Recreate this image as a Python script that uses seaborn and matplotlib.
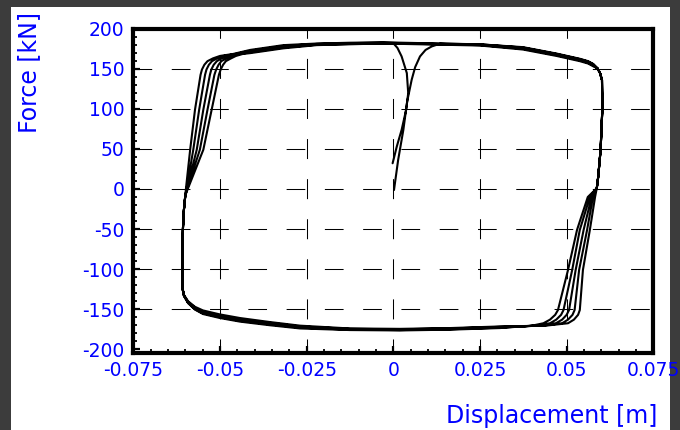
import matplotlib
matplotlib.use("Agg")
import matplotlib.pyplot as plt
from matplotlib.patches import Rectangle
from matplotlib.ticker import MultipleLocator
import pandas as pd
import seaborn as sns

# ---------------------------------------------------------------------------
# Force-displacement record (displacement in m, force in kN)
# ---------------------------------------------------------------------------
# first loading from rest
INITIAL_D = [0.0002, 0.0014, 0.0029, 0.0040, 0.0053, 0.0063, 0.0077, 0.0093, 0.0111, 0.0135]
INITIAL_F = [-1.3, 36.3, 73.8, 109.1, 136.3, 152.0, 165.4, 173.5, 177.9, 181.3]

# rest of the first positive plateau
FIRST_TOP_D = [0.0250, 0.0374, 0.0471, 0.0538, 0.0562, 0.0577]
FIRST_TOP_F = [180.5, 176.5, 168.5, 162.0, 159.0, 155.5]

# unloading at the positive peak (shared by all cycles)
RIGHT_DROP_D = [0.0589, 0.0596, 0.0602, 0.0603, 0.0598, 0.0591, 0.0587]
RIGHT_DROP_F = [150.5, 145.0, 136.0, 100.0, 49.0, 15.0, 1.0]

# reverse loading into compression, one branch per cycle
RIGHT_FAN_F = [-10.0, -51.0, -101.0, -151.0, -157.0, -163.0, -167.5, -170.5]
RIGHT_FAN_D = [
    [0.0582, 0.0567, 0.0547, 0.0538, 0.0533, 0.0521, 0.0504, 0.0440],
    [0.0576, 0.0559, 0.0536, 0.0523, 0.0517, 0.0504, 0.0487, 0.0430],
    [0.0572, 0.0549, 0.0526, 0.0507, 0.0500, 0.0487, 0.0469, 0.0420],
    [0.0567, 0.0538, 0.0516, 0.0491, 0.0484, 0.0470, 0.0452, 0.0410],
    [0.0561, 0.0530, 0.0504, 0.0475, 0.0467, 0.0452, 0.0433, 0.0400],
]

# negative plateau
BOTTOM_D = [0.0308, 0.0164, 0.0019, -0.0125, -0.0269, -0.0356,
            -0.0442, -0.0500, -0.0549, -0.0572, -0.0592, -0.0604, -0.0608]
BOTTOM_F = [
    [-171.5, -173.5, -174.5, -174.0, -170.5, -166.0, -161.0, -156.5, -151.5, -147.0, -140.0, -132.0, -123.5],
    [-172.0, -174.0, -175.0, -174.5, -171.5, -167.0, -162.5, -158.0, -153.0, -148.0, -141.0, -132.5, -124.0],
    [-172.5, -174.5, -175.5, -175.0, -172.0, -168.0, -163.5, -159.0, -154.0, -149.0, -141.5, -133.0, -124.0],
    [-173.0, -175.0, -176.0, -175.5, -173.0, -169.0, -164.5, -160.0, -155.0, -150.0, -142.0, -133.0, -124.5],
    [-173.5, -175.5, -176.5, -176.0, -174.0, -170.0, -165.5, -161.0, -156.0, -150.5, -142.5, -133.5, -124.5],
]

# unloading at the negative peak (shared)
LEFT_RISE_D = [-0.0608, -0.0607, -0.0604, -0.0600]
LEFT_RISE_F = [-101.0, -51.0, -26.0, -8.0]

# reloading into tension, one branch per cycle
LEFT_FAN_F = [1.0, 49.0, 99.0, 142.5, 149.0, 155.0, 159.5, 163.0, 166.0, 168.5]
LEFT_FAN_D = [
    [-0.0598, -0.0586, -0.0572, -0.0556, -0.0552, -0.0545, -0.0536, -0.0520, -0.0500, -0.0462],
    [-0.0596, -0.0577, -0.0560, -0.0543, -0.0539, -0.0532, -0.0523, -0.0508, -0.0489, -0.0455],
    [-0.0595, -0.0567, -0.0548, -0.0529, -0.0525, -0.0518, -0.0509, -0.0495, -0.0477, -0.0448],
    [-0.0594, -0.0558, -0.0536, -0.0516, -0.0511, -0.0504, -0.0496, -0.0481, -0.0465, -0.0441],
    [-0.0592, -0.0548, -0.0524, -0.0503, -0.0498, -0.0491, -0.0483, -0.0468, -0.0454, -0.0434],
]

# positive plateau
TOP_D = [-0.0413, -0.0317, -0.0221, -0.0125, -0.0030, 0.0135, 0.0250,
         0.0374, 0.0471, 0.0538, 0.0562, 0.0577]
TOP_F = [
    [173.5, 179.5, 181.5, 182.5, 183.0, 181.5, 180.5, 177.0, 169.0, 162.5, 159.5, 156.0],
    [172.5, 178.5, 181.0, 182.0, 182.5, 181.0, 180.0, 176.0, 168.0, 161.5, 158.5, 155.0],
    [171.5, 177.5, 180.5, 181.5, 182.0, 180.5, 179.5, 175.0, 167.0, 160.5, 157.5, 154.0],
    [170.5, 176.5, 180.0, 181.0, 181.5, 180.0, 179.0, 174.0, 166.0, 159.5, 156.5, 153.0],
    [169.5, 175.5, 179.5, 180.5, 181.5],
]

# final unloading back towards zero
FINAL_D = [0.0000, 0.0012, 0.0024, 0.0039, 0.0043, 0.0037, 0.0024, 0.0010, -0.0002]
FINAL_F = [181.9, 176.0, 165.4, 144.6, 119.6, 98.8, 73.8, 52.9, 32.1]

X_TICKS = [-0.075, -0.05, -0.025, 0, 0.025, 0.05, 0.075]
X_LABELS = ["-0.075", "-0.05", "-0.025", "0", "0.025", "0.05", "0.075"]
Y_TICKS = [-200, -150, -100, -50, 0, 50, 100, 150, 200]
Y_LABELS = ["-200", "-150", "-100", "-50", "0", "50", "100", "150", "200"]

# ---------------------------------------------------------------------------
# assemble the continuous load path
# ---------------------------------------------------------------------------
disp = INITIAL_D + FIRST_TOP_D + RIGHT_DROP_D
force = INITIAL_F + FIRST_TOP_F + RIGHT_DROP_F
n_cycles = len(RIGHT_FAN_D)
for c in range(n_cycles):
    disp += RIGHT_FAN_D[c] + BOTTOM_D + LEFT_RISE_D + LEFT_FAN_D[c]
    force += RIGHT_FAN_F + BOTTOM_F[c] + LEFT_RISE_F + LEFT_FAN_F
    disp += TOP_D[:len(TOP_F[c])]
    force += TOP_F[c]
    if c < n_cycles - 1:
        disp += RIGHT_DROP_D
        force += RIGHT_DROP_F
disp += FINAL_D
force += FINAL_F

df = pd.DataFrame({"disp": disp, "force": force})

# ---------------------------------------------------------------------------
# figure
# ---------------------------------------------------------------------------
sns.set_style("white")
plt.rcParams["font.family"] = ["DejaVu Sans"]
plt.rcParams["lines.scale_dashes"] = False

BLUE = "#0000ff"

fig = plt.figure(figsize=(6.8, 4.3), dpi=100, facecolor="#3c3c3c")
fig.add_artist(Rectangle((11 / 680, 0), 659 / 680, 423 / 430,
                         transform=fig.transFigure, facecolor="white",
                         edgecolor="none", zorder=-1))
ax = fig.add_axes([0.19603, 0.17837, 0.76471, 0.75489])
ax.set_facecolor("white")

sns.lineplot(data=df, x="disp", y="force", sort=False, estimator=None,
             color="black", lw=1.5, ax=ax)

ax.set_xlim(-0.075, 0.075)
ax.set_ylim(-205, 200)
ax.set_xticks(X_TICKS, X_LABELS)
ax.set_yticks(Y_TICKS, Y_LABELS)
ax.xaxis.set_minor_locator(MultipleLocator(0.005))
ax.yaxis.set_minor_locator(MultipleLocator(10))

ax.tick_params(axis="both", which="major", direction="in", length=4.8,
               width=1.6, color="black", labelcolor=BLUE, labelsize=13.5,
               left=True, bottom=True, top=False, right=False)
ax.tick_params(axis="both", which="minor", direction="in", length=2.9,
               width=1.3, color="black", left=True, bottom=True,
               top=False, right=False)
ax.tick_params(axis="y", which="major", pad=6.5)
ax.tick_params(axis="x", which="major", pad=5.5)

ax.set_axisbelow(True)
ax.xaxis.grid(True, which="major", color="black", lw=0.75,
              linestyle=(4.3, (14.4, 14.46)))
ax.yaxis.grid(True, which="major", color="black", lw=0.75,
              linestyle=(0, (13.46, 14.1)))
ax.yaxis.get_major_ticks()[0].gridline.set_visible(False)

for spine in ax.spines.values():
    spine.set_visible(True)
    spine.set_color("black")
    spine.set_linewidth(3)

ax.set_xlabel("Displacement [m]", fontsize=17, color=BLUE)
ax.xaxis.label.set_ha("right")
ax.xaxis.label.set_va("baseline")
ax.xaxis.set_label_coords(1.007, -0.2147)

ax.set_ylabel("Force [kN]", fontsize=17, color=BLUE)
ax.yaxis.label.set_rotation_mode("anchor")
ax.yaxis.label.set_ha("right")
ax.yaxis.label.set_va("baseline")
ax.yaxis.set_label_coords(-0.1871, 1.0515)

fig.savefig("out.png", dpi=100, facecolor=fig.get_facecolor())
